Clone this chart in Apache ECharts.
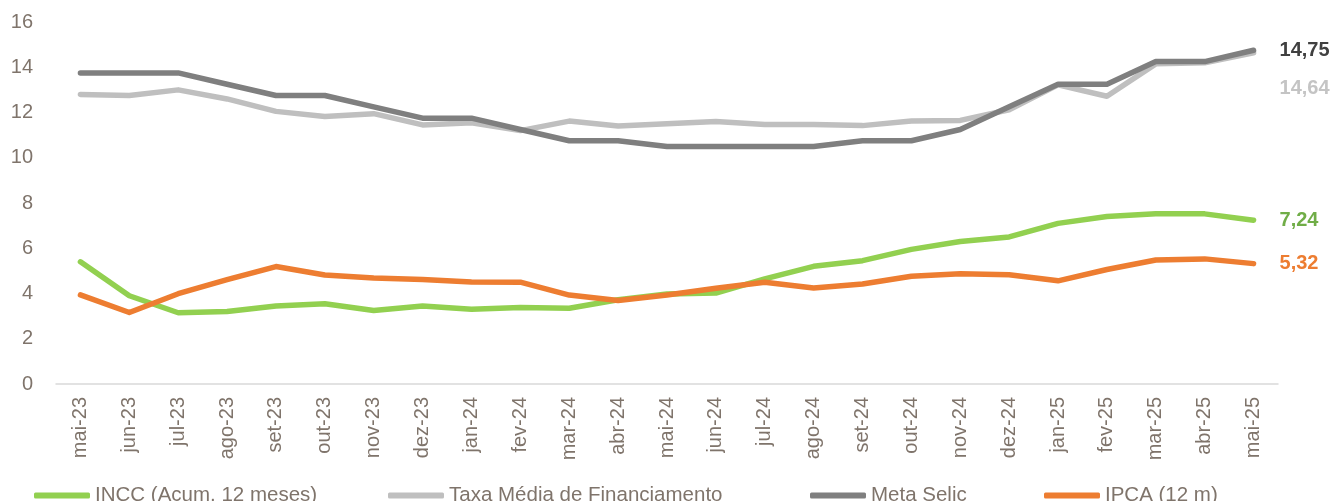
<!DOCTYPE html>
<html>
<head>
<meta charset="utf-8">
<script src="https://cdn.jsdelivr.net/npm/echarts@6/dist/echarts.min.js"></script>
<style>
  html, body { margin: 0; padding: 0; background: #fff; }
  #chart { width: 1333px; height: 501px; }
</style>
</head>
<body>
<div id="chart"></div>
<script>
// meses
const meses = ['mai-23','jun-23','jul-23','ago-23','set-23','out-23','nov-23','dez-23',
  'jan-24','fev-24','mar-24','abr-24','mai-24','jun-24','jul-24','ago-24','set-24','out-24',
  'nov-24','dez-24','jan-25','fev-25','mar-25','abr-25','mai-25'];

// series
const incc = [5.40, 3.90, 3.15, 3.20, 3.45, 3.55, 3.25, 3.45, 3.30, 3.38, 3.35, 3.72, 3.98,
  4.02, 4.65, 5.20, 5.45, 5.95, 6.30, 6.50, 7.10, 7.40, 7.52, 7.52, 7.24];
const taxaMedia = [12.80, 12.75, 13.00, 12.60, 12.05, 11.82, 11.95, 11.45, 11.55, 11.20, 11.62,
  11.40, 11.50, 11.60, 11.47, 11.47, 11.42, 11.62, 11.65, 12.12, 13.22, 12.72, 14.15, 14.20, 14.64];
const metaSelic = [13.75, 13.75, 13.75, 13.25, 12.75, 12.75, 12.25, 11.75, 11.75, 11.25, 10.75,
  10.75, 10.50, 10.50, 10.50, 10.50, 10.75, 10.75, 11.25, 12.25, 13.25, 13.25, 14.25, 14.25, 14.75];
const ipca = [3.94, 3.16, 3.99, 4.61, 5.19, 4.82, 4.68, 4.62, 4.51, 4.50, 3.93, 3.69, 3.93,
  4.23, 4.50, 4.24, 4.42, 4.76, 4.87, 4.83, 4.56, 5.06, 5.48, 5.53, 5.32];

const nomes = ['INCC (Acum. 12 meses)', 'Taxa Média de Financiamento', 'Meta Selic', 'IPCA (12 m)'];
const yTicks = [0, 16, 2]; // min, max, intervalo

const corTexto = '#7f746b';
const fonte = '"Liberation Sans", Arial, sans-serif';

const fmt = p => p.value.toFixed(2).replace('.', ',');

function serie(nome, dados, cor, corLabel, offsetY) {
  return {
    name: nome,
    type: 'line',
    data: dados,
    symbol: 'none',
    lineStyle: { color: cor, width: 5.5, cap: 'round', join: 'round' },
    itemStyle: { color: cor },
    endLabel: {
      show: true,
      formatter: fmt,
      color: corLabel,
      fontWeight: 'bold',
      fontSize: 20,
      fontFamily: fonte,
      distance: 26,
      offset: [0, offsetY]
    },
    emphasis: { disabled: true }
  };
}

function legenda(nome, left) {
  return {
    data: [nome],
    left: left,
    top: 485,
    padding: 0,
    icon: 'roundRect',
    itemWidth: 56,
    itemHeight: 6,
    textStyle: { color: corTexto, fontSize: 20.5, fontFamily: fonte },
    selectedMode: false
  };
}

const myChart = echarts.init(document.getElementById('chart'));
const option = {
  animation: false,
  backgroundColor: '#ffffff',
  grid: { left: 56, right: 55, top: 22, bottom: 117, containLabel: false },
  legend: [
    legenda(nomes[0], 34),
    legenda(nomes[1], 388),
    legenda(nomes[2], 810),
    legenda(nomes[3], 1044)
  ],
  xAxis: {
    type: 'category',
    data: meses,
    boundaryGap: true,
    axisLine: { lineStyle: { color: '#d9d9d9', width: 1.5 } },
    axisTick: { show: false },
    axisLabel: {
      rotate: 90,
      interval: 0,
      margin: 13,
      color: corTexto,
      fontSize: 20,
      fontFamily: fonte
    }
  },
  yAxis: {
    type: 'value',
    min: yTicks[0],
    max: yTicks[1],
    interval: yTicks[2],
    axisLine: { show: false },
    axisTick: { show: false },
    splitLine: { show: false },
    axisLabel: { margin: 23, color: corTexto, fontSize: 20, fontFamily: fonte }
  },
  series: [
    serie(nomes[0], incc, '#92d050', '#70ad47', 0),
    serie(nomes[1], taxaMedia, '#bfbfbf', '#c4c4c4', 36),
    serie(nomes[2], metaSelic, '#7f7f7f', '#404040', 0),
    serie(nomes[3], ipca, '#ed7d31', '#ed7d31', 0)
  ]
};
myChart.setOption(option);
window.onresize = () => { myChart.resize(); };
</script>
</body>
</html>
